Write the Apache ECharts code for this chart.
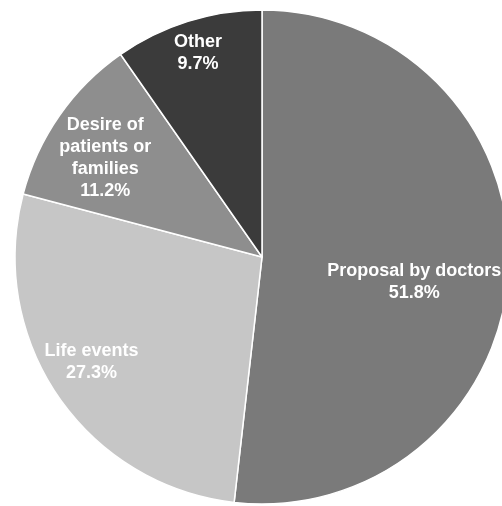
<!DOCTYPE html>
<html>
<head>
<meta charset="utf-8">
<script src="https://cdn.jsdelivr.net/npm/echarts@6/dist/echarts.min.js"></script>
<style>
html,body{margin:0;padding:0;background:#fff;}
#chart{width:502px;height:506px;}
</style>
</head>
<body>
<div id="chart"></div>
<script>
// Data
var categories = ['Proposal by doctors', 'Life events', 'Desire of\npatients or\nfamilies', 'Other'];
var values = [51.8, 27.3, 11.2, 9.7];

// Styles (kept separate from data)
var sliceColors = ['#7a7a7a', '#c6c6c6', '#8e8e8e', '#3b3b3b'];
var labelShift = [[26, 18], [-66, 34], [-53, -27], [-26, -83]];

var chart = echarts.init(document.getElementById('chart'), null, {renderer: 'canvas'});
var seriesData = categories.map(function (c, i) {
  return { name: c, value: values[i], itemStyle: { color: sliceColors[i] } };
});

chart.setOption({
  animation: false,
  backgroundColor: '#ffffff',
  series: [{
    type: 'pie',
    center: [262, 257],
    radius: [0, 247],
    startAngle: 90,
    clockwise: true,
    avoidLabelOverlap: false,
    data: seriesData,
    itemStyle: { borderColor: '#ffffff', borderWidth: 1.5 },
    label: {
      show: true,
      position: 'inside',
      color: '#ffffff',
      fontFamily: 'Liberation Sans, Arial, sans-serif',
      fontWeight: 'bold',
      fontSize: 18,
      lineHeight: 22,
      align: 'center',
      formatter: function (p) { return p.name + '\n' + p.value.toFixed(1) + '%'; }
    },
    labelLine: { show: false },
    labelLayout: function (params) {
      var s = labelShift[params.dataIndex];
      return { dx: s[0], dy: s[1] };
    }
  }]
});
</script>
</body>
</html>
